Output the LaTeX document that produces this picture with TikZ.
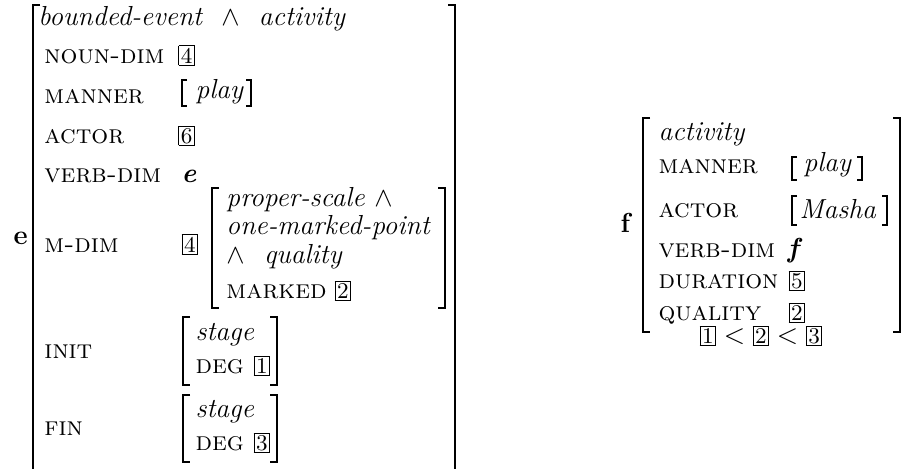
\documentclass[tikz,border=0pt]{standalone}
\usepackage{fontspec}
\usetikzlibrary{positioning}
\newcommand{\avmsz}{\fontsize{11}{13}\selectfont}
\newcommand{\tg}[1]{{\setlength{\fboxsep}{0.6pt}\setlength{\fboxrule}{0.4pt}\fbox{\fontsize{9}{10}\selectfont #1}}}
\newcommand{\avmbr}[6]{%
  \draw[#5] (#1+#6,#2) -| (#1,#4) -- (#1+#6,#4);
  \draw[#5] (#3-#6,#2) -| (#3,#4) -- (#3-#6,#4);}
\begin{document}
\begin{tikzpicture}[x=0.4pt, y=-0.4pt,
    ft/.style={anchor=base west, inner sep=0pt, font=\fontsize{10.6}{12}\selectfont\scshape},
    ty/.style={anchor=base west, inner sep=0pt, font=\avmsz\itshape},
    tv/.style={anchor=base west, inner sep=0pt, font=\avmsz},
    br/.style={line width=0.8pt},
    sb/.style={line width=0.45pt}]
\useasboundingbox (0,0) rectangle (902,468);

\node[tv, font=\avmsz\bfseries] (le) at (13,244) {e};
\avmbr{33}{5}{455}{480}{br}{7}
\node[ty] (etype) at (38,25) {bounded-event \ $\wedge$ \ activity};
\node[ft] (end) at (44,63) {noun-dim};
\node[tv] (end4) at (178,63) {\tg{4}};
\node[ft] (eman) at (44,103) {manner};
\avmbr{182}{80}{251}{106}{sb}{5}
\node[ty] (eplay) at (195,98) {play};
\node[ft] (eact) at (44,143) {actor};
\node[tv] (eact6) at (178,143) {\tg{6}};
\node[ft] (evd) at (44,182) {verb-dim};
\node[tv, font=\avmsz\bfseries\itshape] (evde) at (181,182) {e};
\node[ft] (emd) at (44,252) {m-dim};
\node[tv] (emd4) at (181,252) {\tg{4}};
\avmbr{212}{188}{445}{308}{br}{7}
\node[ty] (ems1) at (226,206) {proper-scale $\wedge$};
\node[ty] (ems2) at (226,234) {one-marked-point};
\node[ty] (ems3) at (226,263) {$\wedge$ \ quality};
\node[ft] (emk) at (226,298) {marked};
\node[tv] (emk2) at (334,298) {\tg{2}};
\node[ft] (einit) at (44,358) {init};
\avmbr{183}{317}{277}{385}{br}{7}
\node[ty] (eis) at (195,340) {stage};
\node[ft] (eid) at (195,373) {deg};
\node[tv] (eid1) at (253,373) {\tg{1}};
\node[ft] (efin) at (44,435) {fin};
\avmbr{183}{395}{277}{462}{br}{7}
\node[ty] (efs) at (195,417) {stage};
\node[ft] (efd) at (195,450) {deg};
\node[tv] (efd3) at (253,450) {\tg{3}};

\node[tv, font=\avmsz\bfseries] (lf) at (620,232) {f};
\avmbr{643}{118}{900}{332}{br}{7}
\node[ty] (ftype) at (658,140) {activity};
\node[ft] (fman) at (658,173) {manner};
\avmbr{792}{157}{862}{180}{sb}{5}
\node[ty] (fplay) at (803,171) {play};
\node[ft] (fact) at (658,217) {actor};
\avmbr{792}{196}{887}{225}{sb}{5}
\node[ty] (fmasha) at (799,218) {Masha};
\node[ft] (fvd) at (658,257) {verb-dim};
\node[tv, font=\avmsz\bfseries\itshape] (fvdf) at (787,257) {f};
\node[ft] (fdur) at (658,288) {duration};
\node[tv] (fdur5) at (788,288) {\tg{5}};
\node[ft] (fqual) at (658,320) {quality};
\node[tv] (fqual2) at (788,320) {\tg{2}};
\node[anchor=base, inner sep=0pt, font=\avmsz] (ford) at (761,343) {$\tg{1} < \tg{2} < \tg{3}$};
\end{tikzpicture}
\end{document}
